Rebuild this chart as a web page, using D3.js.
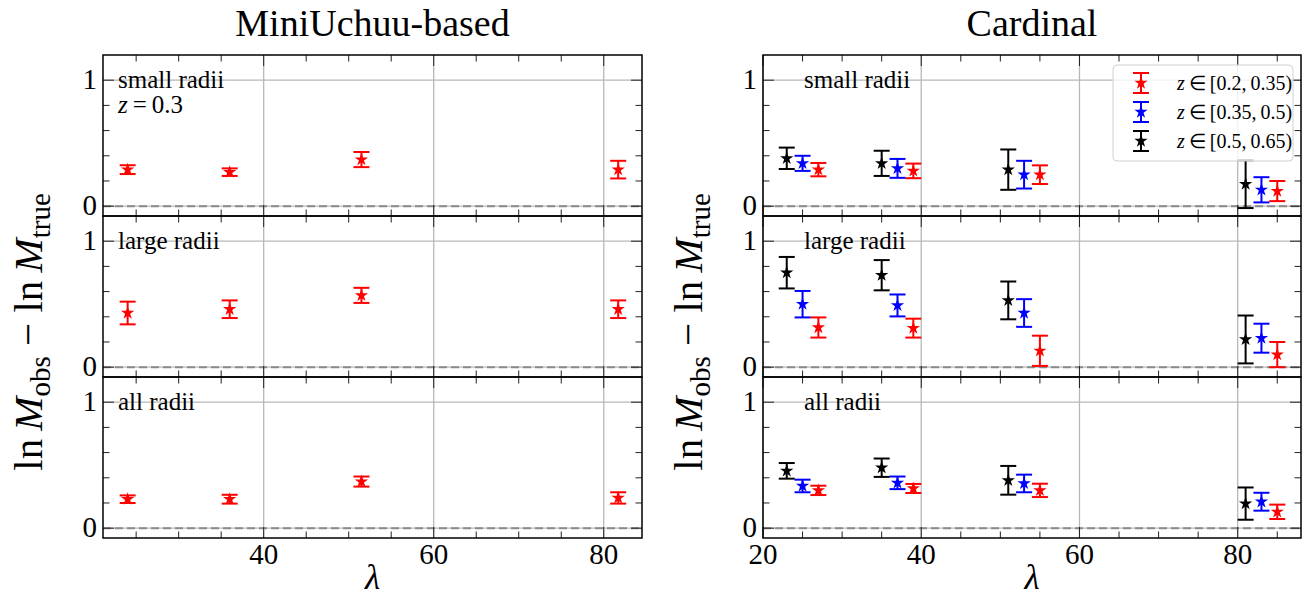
<!DOCTYPE html>
<html>
<head>
<meta charset="utf-8">
<script src="https://cdn.jsdelivr.net/npm/d3@7"></script>
<style>
  body { margin: 0; background: #fff; }
  svg text { font-family: "Liberation Serif", "Times New Roman", serif; }
</style>
</head>
<body>
<div id="chart"></div>
<script>
// MiniUchuu-based: one redshift, four lambda bins
var lamMini = [24, 36, 51.5, 81.7];
var miniSmall = [0.29, 0.27, 0.37, 0.29];
var miniSmallErr = [0.035, 0.03, 0.06, 0.07];
var miniLarge = [0.43, 0.46, 0.57, 0.46];
var miniLargeErr = [0.09, 0.07, 0.06, 0.07];
var miniAll = [0.23, 0.23, 0.37, 0.24];
var miniAllErr = [0.03, 0.035, 0.04, 0.045];

// Cardinal: three redshift bins, offset in lambda
var lamCardLo = [27, 39, 55, 85];   // z in [0.2, 0.35)
var lamCardMid = [25, 37, 53, 83];  // z in [0.35, 0.5)
var lamCardHi = [23, 35, 51, 81];   // z in [0.5, 0.65)

var cardSmallLo = [0.29, 0.28, 0.25, 0.12];
var cardSmallLoErr = [0.053, 0.058, 0.074, 0.08];
var cardSmallMid = [0.34, 0.30, 0.25, 0.13];
var cardSmallMidErr = [0.06, 0.075, 0.11, 0.10];
var cardSmallHi = [0.38, 0.34, 0.29, 0.175];
var cardSmallHiErr = [0.085, 0.10, 0.16, 0.19];

var cardLargeLo = [0.315, 0.31, 0.13, 0.10];
var cardLargeLoErr = [0.08, 0.075, 0.12, 0.10];
var cardLargeMid = [0.50, 0.49, 0.43, 0.23];
var cardLargeMidErr = [0.105, 0.087, 0.11, 0.115];
var cardLargeHi = [0.75, 0.73, 0.53, 0.22];
var cardLargeHiErr = [0.125, 0.12, 0.15, 0.19];

var cardAllLo = [0.30, 0.315, 0.30, 0.13];
var cardAllLoErr = [0.037, 0.036, 0.053, 0.057];
var cardAllMid = [0.335, 0.36, 0.355, 0.21];
var cardAllMidErr = [0.05, 0.05, 0.07, 0.071];
var cardAllHi = [0.455, 0.48, 0.38, 0.195];
var cardAllHiErr = [0.062, 0.073, 0.114, 0.128];

var rowNames = ["small radii", "large radii", "all radii"];
var legendLabels = [["0.2", "0.35"], ["0.35", "0.5"], ["0.5", "0.65"]];
var zColors = ["#ff0000", "#0000ff", "#000000"];

var width = 1304, height = 600;
var svg = d3.select("#chart").append("svg")
    .attr("width", width)
    .attr("height", height);

var rowTop = 55, rowH = 161;
var y = d3.scaleLinear().domain([-0.078, 1.2]).range([rowH, 0]);

var xLeft = d3.scaleLinear().domain([21.1, 84.5]).range([103, 642]);
var xRight = d3.scaleLinear().domain([20, 88]).range([763, 1301]);

var star = d3.symbol().type(d3.symbolStar).size(55);

function drawPanel(x, row, series, label, extra) {
  var g = svg.append("g").attr("transform", "translate(0," + (rowTop + row * rowH) + ")");
  var x0 = x.range()[0], x1 = x.range()[1];
  var majors = [20, 40, 60, 80].filter(function(v) { return v >= x.domain()[0] && v <= x.domain()[1]; });
  var minors = d3.range(20, 90, 5).filter(function(v) { return v % 20 && v > x.domain()[0] && v < x.domain()[1]; });

  // grid
  g.selectAll(".gx").data(majors).enter().append("line")
      .attr("x1", function(d) { return x(d); }).attr("x2", function(d) { return x(d); })
      .attr("y1", 0).attr("y2", rowH)
      .attr("stroke", "#b8b8b8").attr("stroke-width", 1.3);
  g.selectAll(".gy").data([0, 1]).enter().append("line")
      .attr("x1", x0).attr("x2", x1)
      .attr("y1", function(d) { return y(d); }).attr("y2", function(d) { return y(d); })
      .attr("stroke", "#b8b8b8").attr("stroke-width", 1.3);

  // zero line
  g.append("line")
      .attr("x1", x0).attr("x2", x1)
      .attr("y1", y(0)).attr("y2", y(0))
      .attr("stroke", "#8a8a8a").attr("stroke-width", 2)
      .attr("stroke-dasharray", "8,4");

  // ticks, inward on all four sides
  var ticks = g.append("g").attr("stroke", "#222").attr("stroke-width", 1);
  function xt(vals, len) {
    vals.forEach(function(v) {
      ticks.append("line").attr("x1", x(v)).attr("x2", x(v)).attr("y1", rowH).attr("y2", rowH - len);
      ticks.append("line").attr("x1", x(v)).attr("x2", x(v)).attr("y1", 0).attr("y2", len);
    });
  }
  function yt(vals, len) {
    vals.forEach(function(v) {
      ticks.append("line").attr("x1", x0).attr("x2", x0 + len).attr("y1", y(v)).attr("y2", y(v));
      ticks.append("line").attr("x1", x1).attr("x2", x1 - len).attr("y1", y(v)).attr("y2", y(v));
    });
  }
  xt(majors, 11); xt(minors, 6.5);
  yt([0, 1], 11); yt([0.2, 0.4, 0.6, 0.8], 6.5);

  // y tick labels
  g.selectAll(".yl").data([0, 1]).enter().append("text")
      .attr("x", x0 - 6).attr("y", function(d) { return y(d); })
      .attr("dy", "0.32em")
      .attr("text-anchor", "end")
      .attr("font-size", 29)
      .text(function(d) { return d; });

  // x tick labels on the bottom row only
  if (row === 2) {
    g.selectAll(".xl").data(majors).enter().append("text")
        .attr("x", function(d) { return x(d); }).attr("y", rowH + 26)
        .attr("text-anchor", "middle")
        .attr("font-size", 29)
        .text(function(d) { return d; });
  }

  // error bars
  series.forEach(function(s) {
    var pts = s.lam.map(function(l, i) { return { x: l, y: s.val[i], e: s.err[i] }; });
    var pg = g.append("g").attr("stroke", s.color).attr("fill", s.color);
    pts.forEach(function(p) {
      var cx = x(p.x), lo = y(p.y - p.e), hi = y(p.y + p.e);
      pg.append("line").attr("x1", cx).attr("x2", cx).attr("y1", lo).attr("y2", hi).attr("stroke-width", 2);
      pg.append("line").attr("x1", cx - 8).attr("x2", cx + 8).attr("y1", lo).attr("y2", lo).attr("stroke-width", 2);
      pg.append("line").attr("x1", cx - 8).attr("x2", cx + 8).attr("y1", hi).attr("y2", hi).attr("stroke-width", 2);
      pg.append("path").attr("d", star).attr("stroke", "none")
          .attr("transform", "translate(" + cx + "," + y(p.y) + ")");
    });
  });

  // frame
  g.append("rect")
      .attr("x", x0).attr("y", 0)
      .attr("width", x1 - x0).attr("height", rowH)
      .attr("fill", "none").attr("stroke", "#000").attr("stroke-width", 1.5);

  // panel label
  g.append("text")
      .attr("x", label.x).attr("y", 33)
      .attr("font-size", 25)
      .text(rowNames[row]);
  if (extra) extra(g);
}

var miniRows = [[miniSmall, miniSmallErr], [miniLarge, miniLargeErr], [miniAll, miniAllErr]];
miniRows.forEach(function(r, i) {
  drawPanel(xLeft, i, [{ lam: lamMini, val: r[0], err: r[1], color: "#ff0000" }], { x: 118 },
    i === 0 ? function(g) {
      var t = g.append("text").attr("x", 118).attr("y", 58).attr("font-size", 25);
      t.append("tspan").attr("font-style", "italic").text("z");
      t.append("tspan").text("\u2009=\u20090.3");
    } : null);
});

var cardRows = [
  [[cardSmallLo, cardSmallLoErr], [cardSmallMid, cardSmallMidErr], [cardSmallHi, cardSmallHiErr]],
  [[cardLargeLo, cardLargeLoErr], [cardLargeMid, cardLargeMidErr], [cardLargeHi, cardLargeHiErr]],
  [[cardAllLo, cardAllLoErr], [cardAllMid, cardAllMidErr], [cardAllHi, cardAllHiErr]]
];
var cardLams = [lamCardLo, lamCardMid, lamCardHi];
cardRows.forEach(function(r, i) {
  var series = r.map(function(s, k) { return { lam: cardLams[k], val: s[0], err: s[1], color: zColors[k] }; });
  drawPanel(xRight, i, series, { x: 804 }, null);
});

// legend
var leg = svg.append("g").attr("transform", "translate(1113,65)");
leg.append("rect")
    .attr("width", 180).attr("height", 96).attr("rx", 4)
    .attr("fill", "#fff").attr("fill-opacity", 0.8)
    .attr("stroke", "#d0d0d0").attr("stroke-width", 1);
legendLabels.forEach(function(lab, k) {
  var ly = 18 + k * 29;
  var lg = leg.append("g").attr("stroke", zColors[k]).attr("fill", zColors[k]);
  lg.append("line").attr("x1", 28).attr("x2", 28).attr("y1", ly - 10).attr("y2", ly + 10).attr("stroke-width", 2);
  lg.append("line").attr("x1", 20).attr("x2", 36).attr("y1", ly - 10).attr("y2", ly - 10).attr("stroke-width", 2);
  lg.append("line").attr("x1", 20).attr("x2", 36).attr("y1", ly + 10).attr("y2", ly + 10).attr("stroke-width", 2);
  lg.append("path").attr("d", star).attr("stroke", "none").attr("transform", "translate(28," + ly + ")");
  var t = leg.append("text").attr("x", 64).attr("y", ly + 7).attr("font-size", 20);
  t.append("tspan").attr("font-style", "italic").text("z");
  t.append("tspan").text("\u2009\u2208\u2009[" + lab[0] + ",\u2009" + lab[1] + ")");
});

// titles
svg.append("text").attr("x", (103 + 642) / 2).attr("y", 36)
    .attr("text-anchor", "middle").attr("font-size", 38).text("MiniUchuu-based");
svg.append("text").attr("x", (763 + 1301) / 2).attr("y", 36)
    .attr("text-anchor", "middle").attr("font-size", 38).text("Cardinal");

// x labels
[[103, 642], [763, 1301]].forEach(function(r) {
  svg.append("text").attr("x", (r[0] + r[1]) / 2).attr("y", 589)
      .attr("text-anchor", "middle").attr("font-size", 35)
      .attr("font-style", "italic").text("\u03bb");
});

// y labels
[42, 702].forEach(function(bx) {
  var t = svg.append("text")
      .attr("transform", "translate(" + bx + ",332) rotate(-90)")
      .attr("text-anchor", "middle")
      .attr("font-size", 41);
  t.append("tspan").text("ln\u2009");
  t.append("tspan").attr("font-style", "italic").text("M");
  t.append("tspan").attr("font-size", 29).attr("dy", 8).text("obs");
  t.append("tspan").attr("dy", -8).text(" \u2212 ln\u2009");
  t.append("tspan").attr("font-style", "italic").text("M");
  t.append("tspan").attr("font-size", 29).attr("dy", 8).text("true");
});
</script>
</body>
</html>
